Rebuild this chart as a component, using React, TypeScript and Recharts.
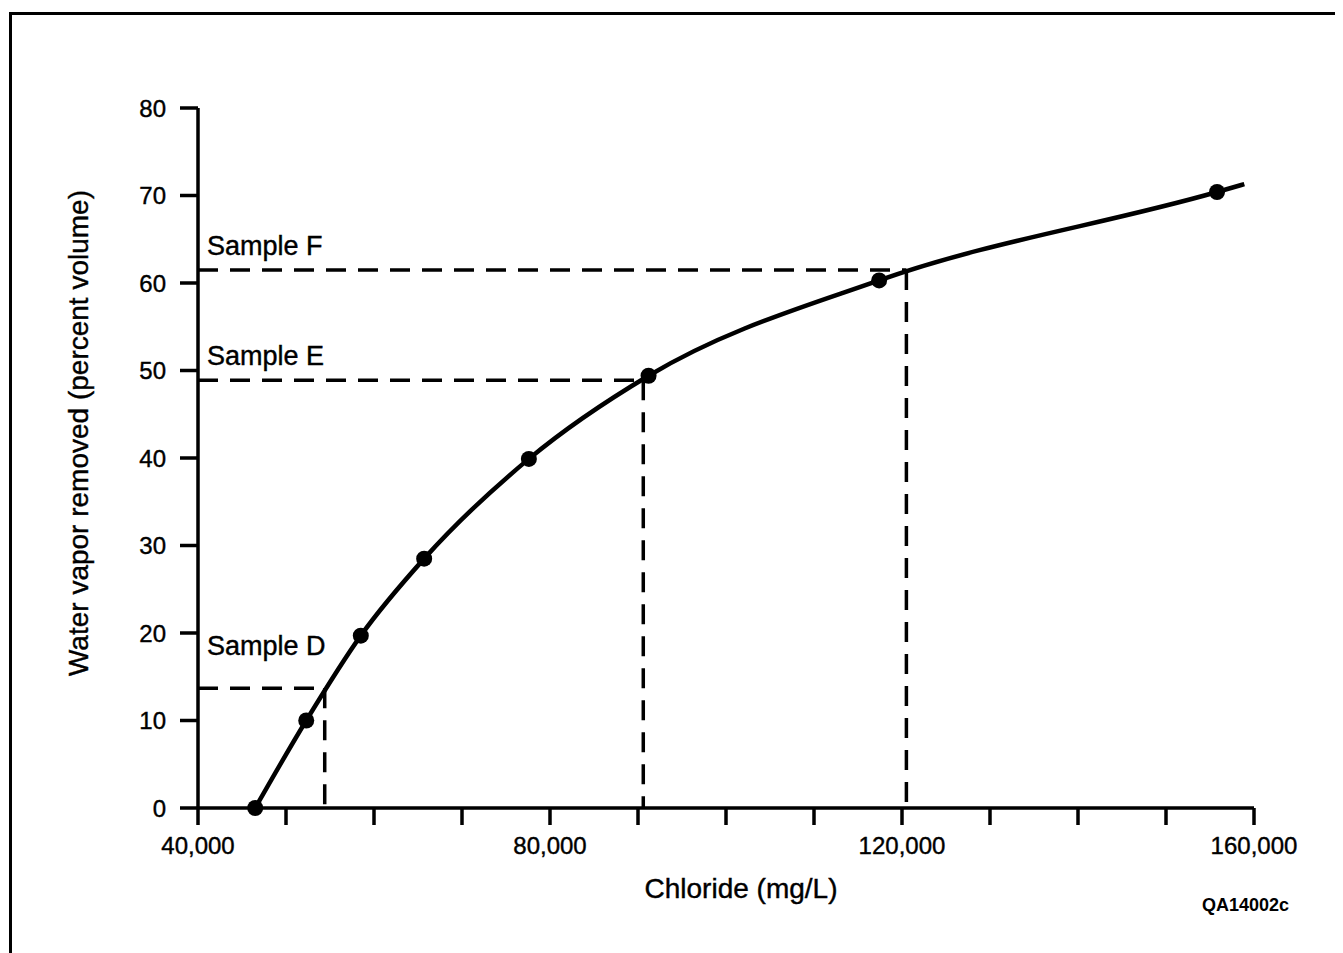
import React from 'react';
import {
  ComposedChart,
  Line,
  Scatter,
  XAxis,
  YAxis,
  ReferenceLine,
  ReferenceDot,
} from 'recharts';

// measured points (chloride mg/L vs % water vapor removed)
const chlorideMeasured = [46500, 52300, 58500, 65700, 77600, 91200, 117400, 155800];
const vaporMeasured = [0, 10, 19.7, 28.5, 39.9, 49.4, 60.3, 70.4];

// the fitted curve runs a bit past the last measurement
const curveEndChloride = 158900;
const curveEndVapor = 71.3;

const sampleNames = ['Sample D', 'Sample E', 'Sample F'];
const sampleChloride = [54400, 90600, 120500];
const sampleVapor = [13.7, 48.9, 61.5];

const xTicks = [
  40000, 50000, 60000, 70000, 80000, 90000, 100000, 110000, 120000, 130000,
  140000, 150000, 160000,
];
const xLabeled = [40000, 80000, 120000, 160000];
const yTicks = [0, 10, 20, 30, 40, 50, 60, 70, 80];

const FONT = '"Liberation Sans", Arial, Helvetica, sans-serif';
const INK = '#000';

const measured = chlorideMeasured.map((x, i) => ({ x, y: vaporMeasured[i] }));
const curve = [...measured, { x: curveEndChloride, y: curveEndVapor }];

// label baseline distance above its dashed line
const labelGap = [33, 15, 15];

const xAxisTitle = (props: any) => {
  const vb = props.viewBox;
  return (
    <g>
      <text
        x={vb.x + vb.width / 2 + 15}
        y={vb.y + 90}
        textAnchor='middle'
        fontSize={28}
        fontFamily={FONT}
        fill={INK}
        stroke={INK}
        strokeWidth={0.4}
      >
        Chloride (mg/L)
      </text>
      <text
        x={vb.x + 1004}
        y={vb.y + 103}
        fontSize={18}
        fontWeight='bold'
        fontFamily={FONT}
        fill={INK}
      >
        QA14002c
      </text>
    </g>
  );
};

const yAxisTitle = (props: any) => {
  const vb = props.viewBox;
  const cx = vb.x + 80;
  const cy = vb.y + vb.height / 2 - 25;
  return (
    <text
      x={cx}
      y={cy}
      transform={`rotate(-90, ${cx}, ${cy})`}
      textAnchor='middle'
      fontSize={28}
      fontFamily={FONT}
      fill={INK}
      stroke={INK}
      strokeWidth={0.4}
    >
      Water vapor removed (percent volume)
    </text>
  );
};

export default function App() {
  return (
    <div style={{ position: 'relative', width: 1335, height: 945, background: '#fff' }}>
      <div
        style={{
          position: 'absolute',
          left: 1,
          top: 4,
          width: 1400,
          height: 1000,
          borderLeft: '3px solid #000',
          borderTop: '3px solid #000',
          boxSizing: 'border-box',
        }}
      />
      <ComposedChart
        width={1335}
        height={945}
        margin={{ top: 100, right: 89, bottom: 0, left: 0 }}
        style={{ position: 'absolute', left: 0, top: 0 }}
      >
        <XAxis
          type='number'
          dataKey='x'
          domain={[40000, 160000]}
          ticks={xTicks}
          interval={0}
          height={145}
          tickSize={17}
          tickMargin={12}
          axisLine={{ stroke: INK, strokeWidth: 3.5 }}
          tickLine={{ stroke: INK, strokeWidth: 3.5 }}
          tick={{ fill: INK, fontSize: 24, fontFamily: FONT, stroke: INK, strokeWidth: 0.4 }}
          tickFormatter={(v: number) =>
            xLabeled.includes(v) ? v.toLocaleString('en-US') : ''
          }
          label={xAxisTitle}
        />
        <YAxis
          type='number'
          dataKey='y'
          domain={[0, 80]}
          ticks={yTicks}
          interval={0}
          width={190}
          tickSize={18}
          tickMargin={14}
          axisLine={{ stroke: INK, strokeWidth: 3.5 }}
          tickLine={{ stroke: INK, strokeWidth: 3.5 }}
          tick={{ fill: INK, fontSize: 24, fontFamily: FONT, stroke: INK, strokeWidth: 0.4 }}
          label={yAxisTitle}
        />
        {sampleNames.map((name, i) => (
          <ReferenceLine
            key={`h-${name}`}
            segment={[
              { x: 40000, y: sampleVapor[i] },
              { x: sampleChloride[i], y: sampleVapor[i] },
            ]}
            stroke={INK}
            strokeWidth={3.5}
            strokeDasharray='20 12'
          />
        ))}
        {sampleNames.map((name, i) => (
          <ReferenceLine
            key={`v-${name}`}
            segment={[
              { x: sampleChloride[i], y: sampleVapor[i] },
              { x: sampleChloride[i], y: 0 },
            ]}
            stroke={INK}
            strokeWidth={3.5}
            strokeDasharray='20 12'
          />
        ))}
        {sampleNames.map((name, i) => (
          <ReferenceDot
            key={`l-${name}`}
            x={40000}
            y={sampleVapor[i]}
            shape={(p: any) => (
              <text
                x={p.cx + 9}
                y={p.cy - labelGap[i]}
                fontSize={27}
                fontFamily={FONT}
                fill={INK}
                stroke={INK}
                strokeWidth={0.4}
              >
                {name}
              </text>
            )}
          />
        ))}
        <Line
          data={curve}
          dataKey='y'
          type='monotone'
          stroke={INK}
          strokeWidth={4.5}
          dot={false}
          activeDot={false}
          isAnimationActive={false}
        />
        <Scatter
          data={measured}
          fill={INK}
          isAnimationActive={false}
          shape={(p: any) => <circle cx={p.cx} cy={p.cy} r={8} fill={INK} />}
        />
      </ComposedChart>
    </div>
  );
}
